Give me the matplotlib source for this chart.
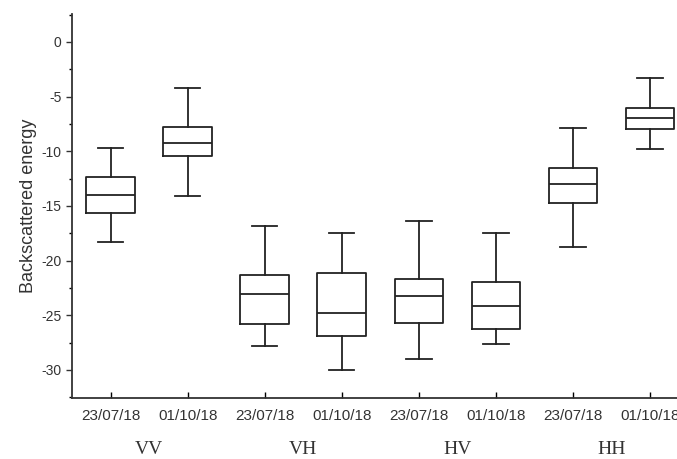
import matplotlib
matplotlib.use("Agg")
import matplotlib.pyplot as plt
from matplotlib.ticker import MultipleLocator

groups = ["VV", "VH", "HV", "HH"]
dates = ["23/07/18", "01/10/18"]
tick_labels = [d for g in groups for d in dates]

whislo = [-18.3, -14.1, -27.8, -30.0, -29.0, -27.6, -18.8, -9.8]
q1     = [-15.6, -10.4, -25.8, -26.9, -25.7, -26.3, -14.7, -8.0]
med    = [-14.0, -9.2, -23.05, -24.8, -23.2, -24.15, -13.0, -7.0]
q3     = [-12.35, -7.8, -21.3, -21.1, -21.7, -21.95, -11.5, -6.05]
whishi = [-9.7, -4.2, -16.8, -17.5, -16.4, -17.5, -7.9, -3.3]

plt.rcParams['font.family'] = ['Liberation Sans', 'DejaVu Sans']
plt.rcParams['axes.unicode_minus'] = False

fig = plt.figure(figsize=(6.77, 4.59), dpi=100)
ax = fig.add_axes([0.1064, 0.1329, 0.8936, 0.8366])

stats = []
for i in range(len(med)):
    stats.append(dict(whislo=whislo[i], q1=q1[i], med=med[i], q3=q3[i],
                      whishi=whishi[i], fliers=[]))
positions = list(range(1, len(med) + 1))
lw = 1.3
ax.bxp(stats, positions=positions, widths=0.63, showfliers=False,
       boxprops=dict(color='#222222', linewidth=lw),
       medianprops=dict(color='#222222', linewidth=lw),
       whiskerprops=dict(color='#222222', linewidth=lw),
       capprops=dict(color='#222222', linewidth=lw),
       capwidths=0.33)

ax.set_xlim(0.5, 8.35)
ax.set_ylim(-32.57, 2.56)
ax.set_xticks(positions)
ax.set_xticklabels(tick_labels, fontsize=11, color='#333333')
ax.yaxis.set_major_locator(MultipleLocator(5))
ax.yaxis.set_minor_locator(MultipleLocator(2.5))
ax.tick_params(axis='y', labelsize=10, colors='#333333', length=4, width=1)
ax.tick_params(axis='y', which='minor', length=2.5, width=1)
ax.tick_params(axis='x', length=4, width=1, direction='in', pad=8)
ax.tick_params(axis='x', which='minor', bottom=False)
for s in ['top', 'right']:
    ax.spines[s].set_visible(False)
for s in ['left', 'bottom']:
    ax.spines[s].set_linewidth(1.3)
    ax.spines[s].set_color('#333333')
ax.set_ylabel("Backscattered energy", fontsize=13, color='#333333', labelpad=3)

for gi, g in enumerate(groups):
    xc = 1.5 + 2 * gi
    ax.text(xc, -0.135, g, transform=ax.get_xaxis_transform(), ha='center',
            va='center', fontsize=14, family=['Liberation Serif', 'DejaVu Serif'],
            color='#333333')

fig.savefig("out.png", dpi=100)
